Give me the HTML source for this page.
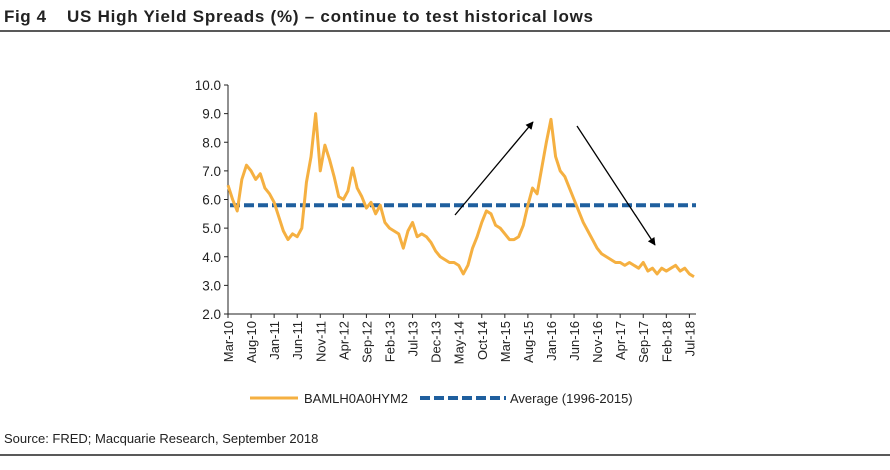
<!DOCTYPE html>
<html><head><meta charset="utf-8"><style>
body{margin:0;width:890px;height:465px;background:#fff;font-family:"Liberation Sans",Arial,sans-serif;overflow:hidden}
</style></head><body>
<svg width="890" height="465">
<text x="4" y="22" font-size="17" font-weight="bold" fill="#222" letter-spacing="0.6">Fig 4</text>
<text x="67" y="22" font-size="17" font-weight="bold" fill="#222" letter-spacing="0.75">US High Yield Spreads (%) – continue to test historical lows</text>
<line x1="0" y1="31" x2="890" y2="31" stroke="#222" stroke-width="1.5"/>
<g id="plot"></g>
<defs><marker id="ah" viewBox="0 0 10 10" refX="9" refY="5" markerWidth="6" markerHeight="6" orient="auto"><path d="M0,0L10,5L0,10z" fill="#000"/></marker></defs>
<line x1="455" y1="215" x2="533" y2="122" stroke="#000" stroke-width="1.3" marker-end="url(#ah)"/>
<line x1="577" y1="126" x2="655" y2="245" stroke="#000" stroke-width="1.3" marker-end="url(#ah)"/>
<g>
<line x1="250" y1="398" x2="298" y2="398" stroke="#F5B041" stroke-width="3"/>
<text x="304" y="403" font-size="13" fill="#222">BAMLH0A0HYM2</text>
<line x1="420" y1="398" x2="506" y2="398" stroke="#1F5F9E" stroke-width="4" stroke-dasharray="10,4"/>
<text x="510" y="403" font-size="13" fill="#222">Average (1996-2015)</text>
</g>
<text x="4" y="443" font-size="13" fill="#222">Source: FRED; Macquarie Research, September 2018</text>
<line x1="0" y1="455" x2="890" y2="455" stroke="#222" stroke-width="1.5"/>
</svg>
<script>
const values=[6.5,6.0,5.6,6.7,7.2,7.0,6.7,6.9,6.4,6.2,
5.9,5.4,4.9,4.6,4.8,4.7,5.0,6.6,7.5,9.0,7.0,7.9,
7.4,6.8,6.1,6.0,6.3,7.1,6.4,6.1,5.7,5.9,5.5,5.8,
5.2,5.0,4.9,4.8,4.3,4.9,5.2,4.7,4.8,4.7,4.5,4.2,
4.0,3.9,3.8,3.8,3.7,3.4,3.7,4.3,4.7,5.2,5.6,5.5,
5.1,5.0,4.8,4.6,4.6,4.7,5.1,5.8,6.4,6.2,7.1,8.0,
8.8,7.5,7.0,6.8,6.4,6.0,5.6,5.2,4.9,4.6,4.3,4.1,
4.0,3.9,3.8,3.8,3.7,3.8,3.7,3.6,3.8,3.5,3.6,3.4,
3.6,3.5,3.6,3.7,3.5,3.6,3.4,3.3];
const average=[5.8];
const yTicks=[2,3,4,5,6,7,8,9,10];
const xLabelText=["Mar-10","Aug-10","Jan-11","Jun-11","Nov-11","Apr-12","Sep-12","Feb-13","Jul-13","Dec-13","May-14","Oct-14","Mar-15","Aug-15","Jan-16","Jun-16","Nov-16","Apr-17","Sep-17","Feb-18","Jul-18"];
const ns="http://www.w3.org/2000/svg";
const g=document.getElementById('plot');
const X0=228,X1=694,Y0=314,Y1=85,yMin=2,yMax=10,nMonths=values.length-1;
const xs=m=>X0+(X1-X0)*m/nMonths;
const ys=v=>Y0-(v-yMin)/(yMax-yMin)*(Y0-Y1);
function mk(t,a){const e=document.createElementNS(ns,t);for(const k in a)e.setAttribute(k,a[k]);g.appendChild(e);return e;}
let e=mk('line',{x1:X0,y1:Y1,x2:X0,y2:Y0,stroke:'#222'});


e=mk('line',{x1:X0,y1:Y0,x2:X1+2,y2:Y0,stroke:'#222'});


yTicks.forEach(v=>{
 let t=mk('line',{x1:X0-4,y1:ys(v),x2:X0,y2:ys(v),stroke:'#222'});
 
 
 let l=mk('text',{x:X0-7,y:ys(v)+5,'font-size':13.5,'text-anchor':'end',fill:'#222'});
 l.textContent=v.toFixed(1);
 
 
});
xLabelText.forEach((s,i)=>{
 const m=i*5;
 const x=xs(m);
 let t=mk('line',{x1:x,y1:Y0,x2:x,y2:Y0+4,stroke:'#222'});
 
 
 let l=mk('text',{x:0,y:0,'font-size':13,'text-anchor':'end',fill:'#222',transform:`translate(${x+5},${Y0+7}) rotate(-90)`});
 l.textContent=s;
 
 
});
let avg=mk('line',{x1:X0+2,y1:ys(average[0]),x2:X1+2,y2:ys(average[0]),stroke:'#1F5F9E','stroke-width':4,'stroke-dasharray':'10,4'});


let p=mk('polyline',{points:values.map((v,i)=>xs(i)+','+ys(v)).join(' '),fill:'none',stroke:'#F5B041','stroke-width':3,'stroke-linejoin':'round'});


</script>
</body></html>
